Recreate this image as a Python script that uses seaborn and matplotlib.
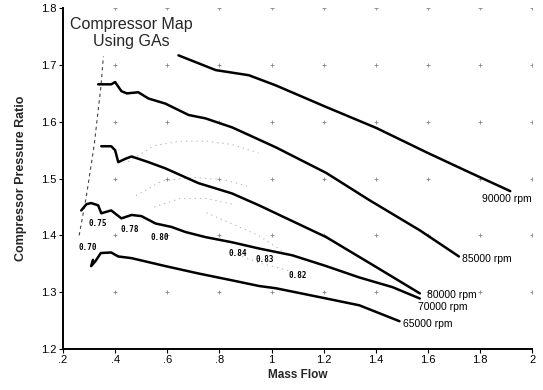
import numpy as np
import pandas as pd
import matplotlib
matplotlib.use("Agg")
import matplotlib.pyplot as plt
import seaborn as sns

# ---- data ----
rpm_labels = ["90000 rpm", "85000 rpm", "80000 rpm", "70000 rpm", "65000 rpm"]

x90 = [0.643, 0.72, 0.786, 0.913, 1.017, 1.21, 1.403, 1.596, 1.75, 1.916]
y90 = [1.717, 1.703, 1.691, 1.682, 1.664, 1.626, 1.589, 1.546, 1.513, 1.478]

x85 = [0.335, 0.385, 0.40, 0.424, 0.445, 0.489, 0.528, 0.593, 0.682, 0.747, 0.85, 1.017, 1.21, 1.376, 1.569, 1.719]
y85 = [1.666, 1.666, 1.670, 1.654, 1.650, 1.652, 1.641, 1.632, 1.612, 1.606, 1.59, 1.555, 1.51, 1.462, 1.409, 1.363]

x80 = [0.347, 0.385, 0.40, 0.412, 0.44, 0.463, 0.528, 0.593, 0.72, 0.848, 0.952, 1.21, 1.403, 1.569]
y80 = [1.557, 1.557, 1.55, 1.529, 1.535, 1.539, 1.529, 1.518, 1.492, 1.474, 1.453, 1.397, 1.344, 1.298]

x70 = [0.27, 0.29, 0.308, 0.335, 0.347, 0.385, 0.424, 0.463, 0.501, 0.555, 0.616, 0.67, 0.747, 0.848, 0.952, 1.08, 1.21, 1.337, 1.464, 1.569]
y70 = [1.444, 1.455, 1.457, 1.453, 1.439, 1.444, 1.430, 1.436, 1.434, 1.421, 1.415, 1.406, 1.397, 1.388, 1.377, 1.365, 1.346, 1.326, 1.309, 1.289]

x65 = [0.315, 0.308, 0.325, 0.345, 0.385, 0.40, 0.412, 0.463, 0.528, 0.593, 0.72, 0.848, 0.952, 1.017, 1.21, 1.337, 1.491]
y65 = [1.357, 1.346, 1.355, 1.369, 1.370, 1.366, 1.363, 1.360, 1.353, 1.346, 1.333, 1.321, 1.311, 1.307, 1.289, 1.277, 1.249]

# surge line (dashed)
x_surge = [0.262, 0.29, 0.32, 0.345, 0.355]
y_surge = [1.40, 1.47, 1.56, 1.66, 1.715]

# faint efficiency contour fragments
contours = [
    ([0.45, 0.55, 0.65, 0.75, 0.85, 0.95], [1.53, 1.558, 1.566, 1.566, 1.56, 1.545]),
    ([0.48, 0.58, 0.70, 0.82, 0.92], [1.47, 1.496, 1.502, 1.498, 1.485]),
    ([0.55, 0.65, 0.75, 0.85], [1.45, 1.465, 1.465, 1.455]),
    ([0.75, 0.85, 0.95, 1.05], [1.44, 1.42, 1.40, 1.37]),
    ([0.85, 0.95, 1.05, 1.12], [1.37, 1.352, 1.34, 1.33]),
]

eff_labels = ["0.70", "0.75", "0.78", "0.80", "0.84", "0.83", "0.82"]
eff_x = [0.258, 0.296, 0.42, 0.535, 0.836, 0.94, 1.067]
eff_y = [1.379, 1.421, 1.411, 1.397, 1.369, 1.358, 1.330]

label_x = [1.808, 1.73, 1.595, 1.561, 1.503]
label_y = [1.464, 1.358, 1.295, 1.274, 1.244]

xticks = [0.2, 0.4, 0.6, 0.8, 1.0, 1.2, 1.4, 1.6, 1.8, 2.0]
xticklabels = [".2", ".4", ".6", ".8", "1", "1.2", "1.4", "1.6", "1.8", "2"]
yticks = [1.2, 1.3, 1.4, 1.5, 1.6, 1.7, 1.8]
yticklabels = ["1.2", "1.3", "1.4", "1.5", "1.6", "1.7", "1.8"]

# ---- plotting ----
sns.set_theme(style="ticks")
plt.rcParams["font.family"] = ["Liberation Sans", "DejaVu Sans"]

fig = plt.figure(figsize=(5.43, 3.90), dpi=100)
ax = fig.add_axes([0.116, 0.105, 0.864, 0.874])

# grid "+" markers
gx, gy = np.meshgrid(xticks[1:], yticks[1:])
ax.scatter(gx.ravel(), gy.ravel(), marker="+", s=12, color="#888888", linewidths=0.6, zorder=1)

for cx, cy in contours:
    sns.lineplot(x=cx, y=cy, sort=False, estimator=None, ax=ax, color="#bbbbbb",
                 linestyle=(0, (1.2, 3.5)), linewidth=0.8, zorder=2)

sns.lineplot(x=x_surge, y=y_surge, sort=False, estimator=None, ax=ax, color="#444444",
             linestyle=(0, (3, 3)), linewidth=0.8, zorder=2)

series = [(x90, y90), (x85, y85), (x80, y80), (x70, y70), (x65, y65)]
for (sx, sy) in series:
    sns.lineplot(x=sx, y=sy, sort=False, estimator=None, ax=ax, color="black",
                 linewidth=1.8, zorder=3)

for lab, lx, ly in zip(rpm_labels, label_x, label_y):
    ax.text(lx, ly, lab, fontsize=7.5, ha="left", va="center", color="black")

for lab, lx, ly in zip(eff_labels, eff_x, eff_y):
    ax.text(lx, ly, lab, fontsize=5.5, ha="left", va="center", color="black",
            family="DejaVu Sans Mono", fontweight="bold")

ax.text(0.462, 1.757, "Compressor Map\nUsing GAs", fontsize=11.5, ha="center", va="center",
        linespacing=1.15)

ax.set_xlim(0.2, 2.0)
ax.set_ylim(1.2, 1.8)
ax.set_xticks(xticks)
ax.set_xticklabels(xticklabels, fontsize=8)
ax.set_yticks(yticks)
ax.set_yticklabels(yticklabels, fontsize=8)
ax.tick_params(axis="both", length=3, width=0.8, pad=1.5, colors="black")
ax.set_xlabel("Mass Flow", fontsize=8.5, fontweight="bold", labelpad=3)
ax.set_ylabel("Compressor Pressure Ratio", fontsize=9, fontweight="bold", labelpad=10)
sns.despine(ax=ax)
for s in ["left", "bottom"]:
    ax.spines[s].set_linewidth(1.4)
    ax.spines[s].set_color("black")

fig.savefig("out.png", dpi=100)
